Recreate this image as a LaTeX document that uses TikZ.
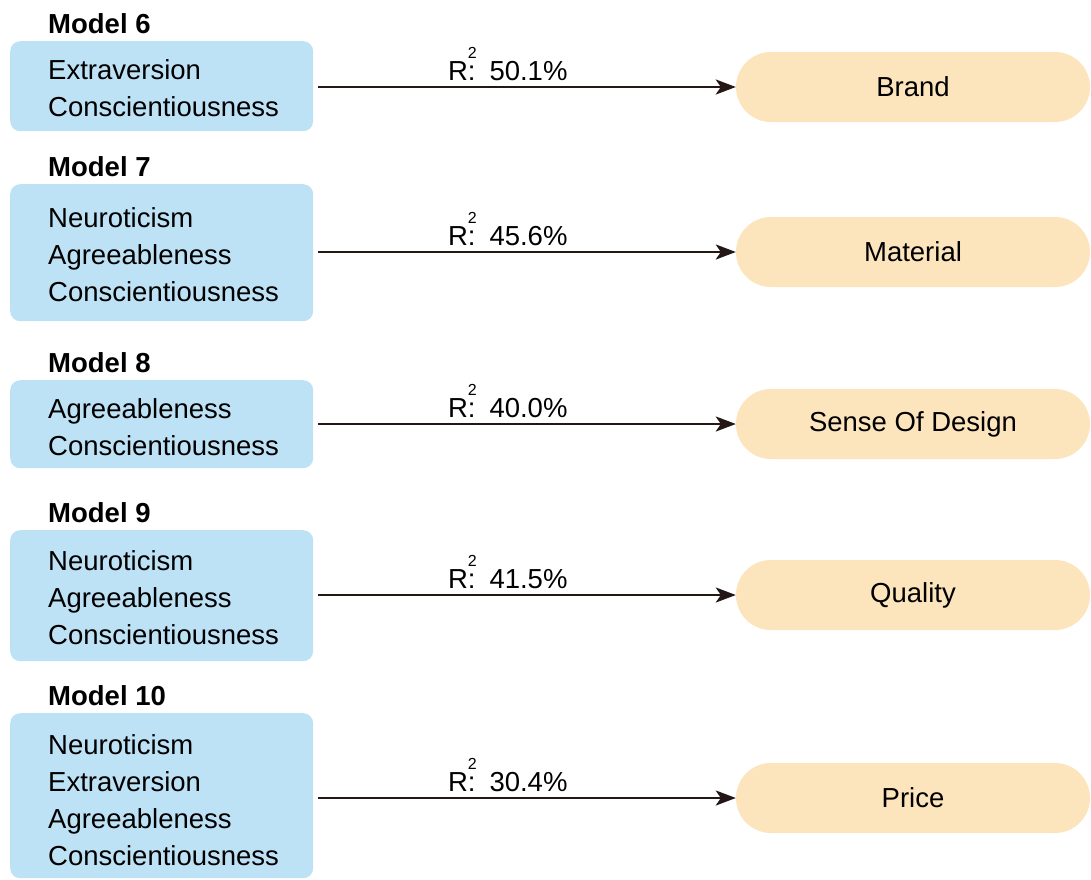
\documentclass[tikz,border=0pt]{standalone}
\usepackage{fontspec}
\setmainfont{Liberation Sans}
\usetikzlibrary{arrows.meta,calc}
\definecolor{predblue}{RGB}{190,226,245}
\definecolor{outorange}{RGB}{252,228,188}
\definecolor{inkdark}{RGB}{35,24,21}
\begin{document}
\begin{tikzpicture}[x=1pt,y=-1pt,
  predbox/.style={fill=predblue,draw=none,rounded corners=10pt,minimum width=303pt,inner sep=0pt,anchor=north west},
  predtext/.style={anchor=west,align=left,inner sep=0pt,font=\fontsize{27.5}{37}\selectfont,text=black},
  modellabel/.style={anchor=base west,inner sep=0pt,font=\fontsize{27.5}{33}\selectfont\bfseries,text=black},
  outpill/.style={fill=outorange,draw=none,rounded corners=35pt,minimum width=354pt,minimum height=70pt,inner sep=0pt,font=\fontsize{27.5}{33}\selectfont,text=black},
  rlabel/.style={anchor=base west,inner sep=0pt,font=\fontsize{27.5}{33}\selectfont,text=black},
  linkarrow/.style={draw=inkdark,line width=2.4pt,-{Stealth[length=20pt,width=15pt,inset=5pt]}}
]
\useasboundingbox (0,0) rectangle (1091,879);
\newcommand{\rsq}[1]{R\rlap{\raisebox{22pt}{\fontsize{16}{16}\selectfont 2}}:\hspace{14pt}#1}

% Model 6
\node[predbox,minimum height=90pt] (b6) at (10,41) {};
\node[modellabel] (l6) at ($(b6.north west)+(38,-8)$) {Model 6};
\node[predtext] (t6) at (48,88) {Extraversion\\Conscientiousness};
\node[outpill] (o6) at (913,87) {Brand};
\draw[linkarrow] (o6.west -| b6.east) ++(5,0) coordinate (s6) -- (o6.west);
\node[rlabel] (r6) at ($(o6.west)+(-288,-7)$) {\rsq{50.1\%}};

% Model 7
\node[predbox,minimum height=137pt] (b7) at (10,184) {};
\node[modellabel] (l7) at ($(b7.north west)+(38,-8)$) {Model 7};
\node[predtext] (t7) at (48,255) {Neuroticism\\Agreeableness\\Conscientiousness};
\node[outpill] (o7) at (913,252) {Material};
\draw[linkarrow] (o7.west -| b7.east) ++(5,0) coordinate (s7) -- (o7.west);
\node[rlabel] (r7) at ($(o7.west)+(-288,-7)$) {\rsq{45.6\%}};

% Model 8
\node[predbox,minimum height=88pt] (b8) at (10,380) {};
\node[modellabel] (l8) at ($(b8.north west)+(38,-8)$) {Model 8};
\node[predtext] (t8) at (48,427) {Agreeableness\\Conscientiousness};
\node[outpill] (o8) at (913,424) {Sense Of Design};
\draw[linkarrow] (o8.west -| b8.east) ++(5,0) coordinate (s8) -- (o8.west);
\node[rlabel] (r8) at ($(o8.west)+(-288,-7)$) {\rsq{40.0\%}};

% Model 9
\node[predbox,minimum height=131pt] (b9) at (10,530) {};
\node[modellabel] (l9) at ($(b9.north west)+(38,-8)$) {Model 9};
\node[predtext] (t9) at (48,598) {Neuroticism\\Agreeableness\\Conscientiousness};
\node[outpill] (o9) at (913,595) {Quality};
\draw[linkarrow] (o9.west -| b9.east) ++(5,0) coordinate (s9) -- (o9.west);
\node[rlabel] (r9) at ($(o9.west)+(-288,-7)$) {\rsq{41.5\%}};

% Model 10
\node[predbox,minimum height=165pt] (b10) at (10,713) {};
\node[modellabel] (l10) at ($(b10.north west)+(38,-8)$) {Model 10};
\node[predtext] (t10) at (48,800.5) {Neuroticism\\Extraversion\\Agreeableness\\Conscientiousness};
\node[outpill] (o10) at (913,798) {Price};
\draw[linkarrow] (o10.west -| b10.east) ++(5,0) coordinate (s10) -- (o10.west);
\node[rlabel] (r10) at ($(o10.west)+(-288,-7)$) {\rsq{30.4\%}};
\end{tikzpicture}
\end{document}
